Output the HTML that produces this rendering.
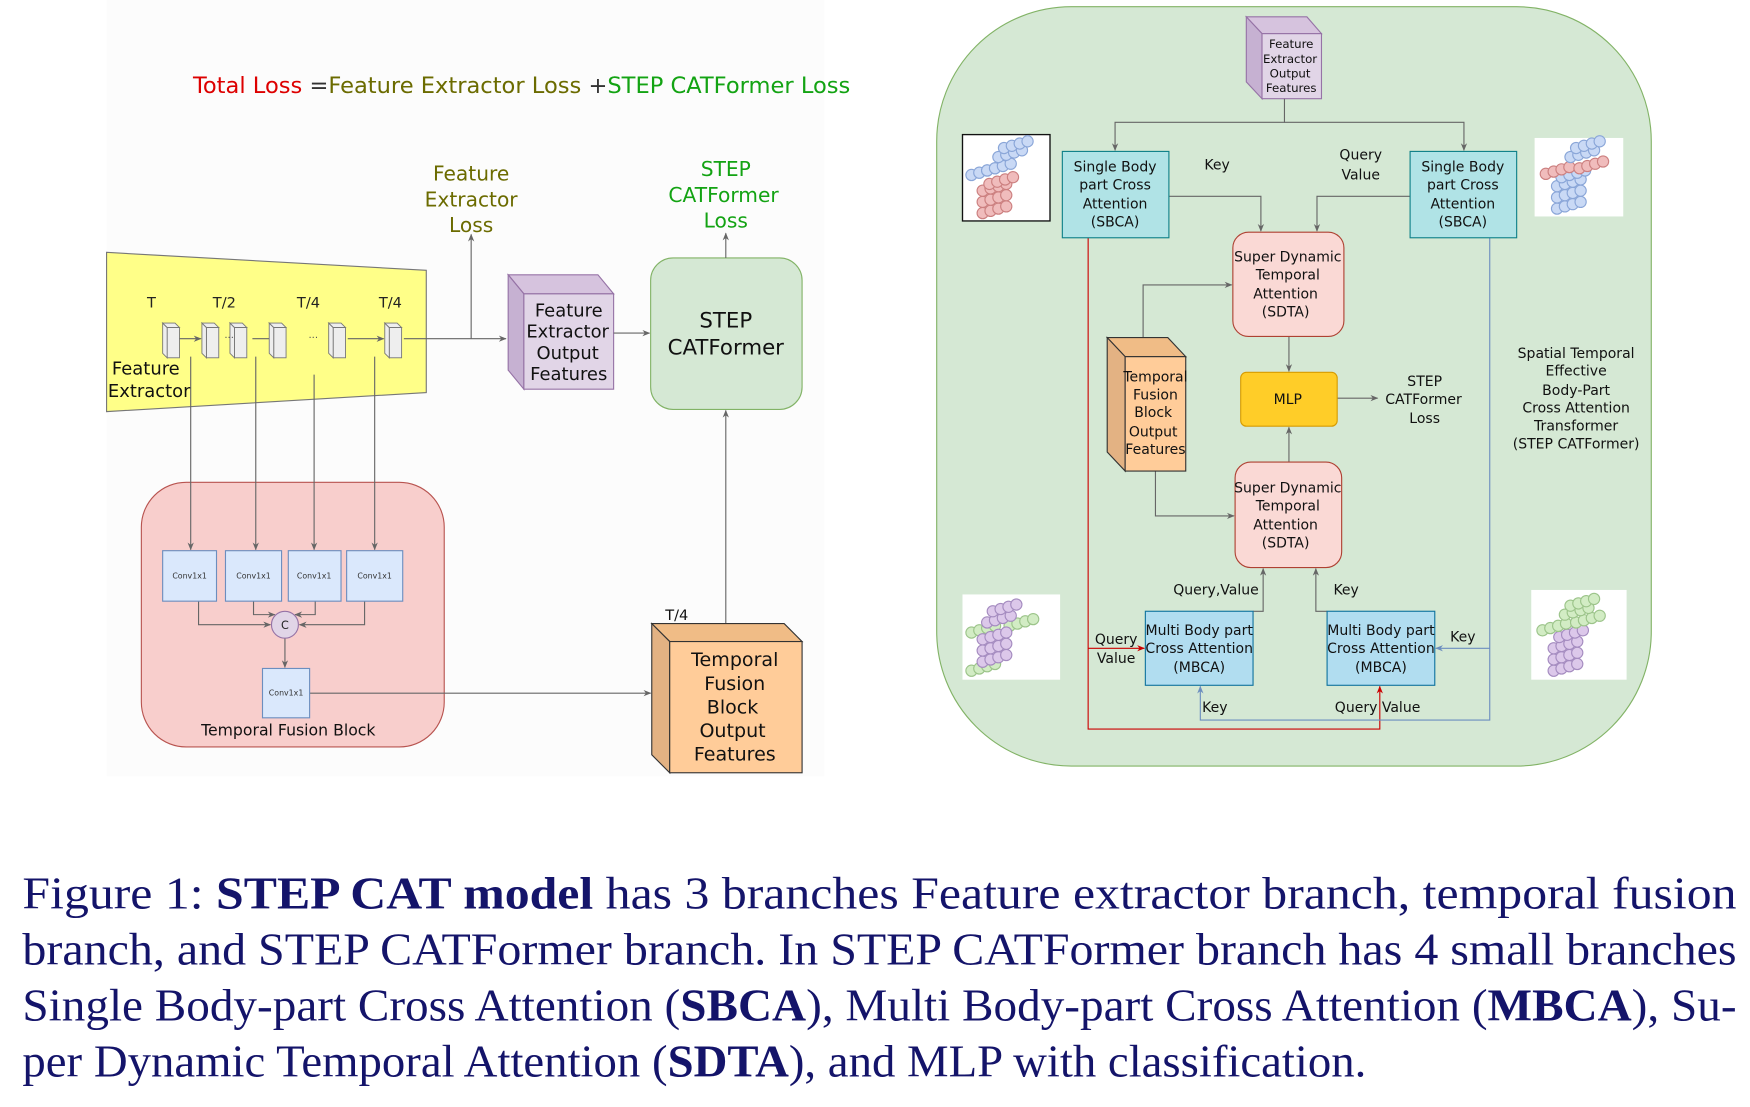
<!DOCTYPE html>
<html><head><meta charset="utf-8"><style>
html,body{margin:0;padding:0;background:#fff;}
svg{display:block;}
text{font-family:"DejaVu Sans","Liberation Sans",sans-serif;}
text.cap{font-family:"Liberation Serif",serif;}
</style></head><body>
<svg width="1750" height="1107" viewBox="0 0 1560 987" preserveAspectRatio="none" xmlns="http://www.w3.org/2000/svg">
<defs>
<marker id="a" viewBox="0 0 10 10" refX="9" refY="5" markerWidth="7" markerHeight="7" orient="auto-start-reverse"><path d="M0,1 L10,5 L0,9 L3,5 z" fill="#666"/></marker>
<marker id="ar" viewBox="0 0 10 10" refX="9" refY="5" markerWidth="7" markerHeight="7" orient="auto"><path d="M0,1 L10,5 L0,9 L3,5 z" fill="#c00"/></marker>
<marker id="ab" viewBox="0 0 10 10" refX="9" refY="5" markerWidth="7" markerHeight="7" orient="auto"><path d="M0,1 L10,5 L0,9 L3,5 z" fill="#6c8ebf"/></marker>
<g id="rb"><circle cx="0" cy="0" r="5" fill="#c9d9f5" stroke="#8aa6d8"/><circle cx="7" cy="-2" r="5" fill="#c9d9f5" stroke="#8aa6d8"/><circle cx="14" cy="-4" r="5" fill="#c9d9f5" stroke="#8aa6d8"/><circle cx="21" cy="-6" r="5" fill="#c9d9f5" stroke="#8aa6d8"/></g>
<g id="rr"><circle cx="0" cy="0" r="5" fill="#f0bcbc" stroke="#cc8080"/><circle cx="7" cy="-2" r="5" fill="#f0bcbc" stroke="#cc8080"/><circle cx="14" cy="-4" r="5" fill="#f0bcbc" stroke="#cc8080"/><circle cx="21" cy="-6" r="5" fill="#f0bcbc" stroke="#cc8080"/></g>
<g id="rp"><circle cx="0" cy="0" r="5" fill="#dcc8ea" stroke="#a58cc0"/><circle cx="7" cy="-2" r="5" fill="#dcc8ea" stroke="#a58cc0"/><circle cx="14" cy="-4" r="5" fill="#dcc8ea" stroke="#a58cc0"/><circle cx="21" cy="-6" r="5" fill="#dcc8ea" stroke="#a58cc0"/></g>
<g id="rg"><circle cx="0" cy="0" r="5" fill="#d2ecc4" stroke="#9cc48a"/><circle cx="7" cy="-2" r="5" fill="#d2ecc4" stroke="#9cc48a"/><circle cx="14" cy="-4" r="5" fill="#d2ecc4" stroke="#9cc48a"/><circle cx="21" cy="-6" r="5" fill="#d2ecc4" stroke="#9cc48a"/></g>
</defs>
<rect width="1560" height="987" fill="#fff"/>
<rect x="95" y="0" width="640" height="692" fill="#fcfcfc"/>

<text x="172" y="83" font-size="19.5" textLength="586" lengthAdjust="spacingAndGlyphs"><tspan fill="#dd0000">Total Loss</tspan><tspan fill="#333"> =</tspan><tspan fill="#6b6b00">Feature Extractor Loss </tspan><tspan fill="#333">+</tspan><tspan fill="#13a313">STEP CATFormer Loss</tspan></text>

<polygon points="95,225 380,241 380,350 95,367" fill="#ffff88" stroke="#777"/>
<g font-size="13" fill="#222" text-anchor="middle"><text x="135" y="274">T</text><text x="200" y="274">T/2</text><text x="275" y="274">T/4</text><text x="348" y="274">T/4</text></g>
<g fill="#eee" stroke="#777" stroke-width="0.8">
<g transform="translate(145,288)"><rect x="4" y="4" width="11" height="27"/><polygon points="0,0 4,4 4,31 0,27"/><polygon points="0,0 11,0 15,4 4,4"/></g>
<g transform="translate(180,288)"><rect x="4" y="4" width="11" height="27"/><polygon points="0,0 4,4 4,31 0,27"/><polygon points="0,0 11,0 15,4 4,4"/></g>
<g transform="translate(205,288)"><rect x="4" y="4" width="11" height="27"/><polygon points="0,0 4,4 4,31 0,27"/><polygon points="0,0 11,0 15,4 4,4"/></g>
<g transform="translate(240,288)"><rect x="4" y="4" width="11" height="27"/><polygon points="0,0 4,4 4,31 0,27"/><polygon points="0,0 11,0 15,4 4,4"/></g>
<g transform="translate(293,288)"><rect x="4" y="4" width="11" height="27"/><polygon points="0,0 4,4 4,31 0,27"/><polygon points="0,0 11,0 15,4 4,4"/></g>
<g transform="translate(343,288)"><rect x="4" y="4" width="11" height="27"/><polygon points="0,0 4,4 4,31 0,27"/><polygon points="0,0 11,0 15,4 4,4"/></g>
</g>
<g stroke="#666" fill="none" stroke-width="1">
<line x1="160" y1="302" x2="179" y2="302" marker-end="url(#a)"/>
<line x1="240" y1="302" x2="225" y2="302"/>
<line x1="310" y1="302" x2="342" y2="302" marker-end="url(#a)"/>
<line x1="360" y1="302" x2="451" y2="302" marker-end="url(#a)"/>
<line x1="420" y1="302" x2="420" y2="209" marker-end="url(#a)"/>
</g>
<text x="200" y="304" font-size="9" fill="#555">···</text><text x="275" y="304" font-size="9" fill="#555">···</text>
<text x="130" y="334" font-size="16" fill="#111" text-anchor="middle">Feature</text>
<text x="133" y="354" font-size="16" fill="#111" text-anchor="middle">Extractor</text>
<g font-size="18" fill="#6b6b00" text-anchor="middle"><text x="420" y="161">Feature</text><text x="420" y="184">Extractor</text><text x="420" y="207">Loss</text></g>

<polygon points="453,245 533,245 547,262 467,262" fill="#d6c3de" stroke="#9673a6"/>
<polygon points="453,245 467,262 467,347 453,330" fill="#c6b1d2" stroke="#9673a6"/>
<rect x="467" y="262" width="80" height="85" fill="#e1d5e7" stroke="#9673a6"/>
<g font-size="16" fill="#111" text-anchor="middle"><text x="507" y="282">Feature</text><text x="506" y="301">Extractor</text><text x="506" y="320">Output</text><text x="507" y="339">Features</text></g>
<line x1="547" y1="297" x2="579" y2="297" stroke="#666" marker-end="url(#a)"/>

<rect x="580" y="230" width="135" height="135" rx="20" fill="#d5e8d4" stroke="#82b366"/>
<text x="647" y="292" font-size="19" fill="#111" text-anchor="middle">STEP</text>
<text x="647" y="316" font-size="19" fill="#111" text-anchor="middle">CATFormer</text>
<line x1="647" y1="230" x2="647" y2="208" stroke="#666" marker-end="url(#a)"/>
<g font-size="18" fill="#13a313" text-anchor="middle"><text x="647" y="157">STEP</text><text x="645" y="180">CATFormer</text><text x="647" y="203">Loss</text></g>

<rect x="126" y="430" width="270" height="236" rx="40" fill="#f8cecc" stroke="#b85450"/>
<g stroke="#666" fill="none">
<line x1="170" y1="318" x2="170" y2="490" marker-end="url(#a)"/>
<line x1="228" y1="318" x2="228" y2="490" marker-end="url(#a)"/>
<line x1="280" y1="334" x2="280" y2="490" marker-end="url(#a)"/>
<line x1="334" y1="318" x2="334" y2="490" marker-end="url(#a)"/>
<polyline points="177,536 177,557 241,557" marker-end="url(#a)"/>
<polyline points="226,536 226,548 245,548" marker-end="url(#a)"/>
<polyline points="281,536 281,548 263,548" marker-end="url(#a)"/>
<polyline points="325,536 325,557 267,557" marker-end="url(#a)"/>
<line x1="254" y1="569" x2="254" y2="595" marker-end="url(#a)"/>
<line x1="276" y1="618" x2="580" y2="618" marker-end="url(#a)"/>
<line x1="647" y1="556" x2="647" y2="366" marker-end="url(#a)"/>
</g>
<g fill="#dae8fc" stroke="#6c8ebf"><rect x="145" y="491" width="48" height="45"/><rect x="201" y="491" width="50" height="45"/><rect x="257" y="491" width="47" height="45"/><rect x="309" y="491" width="50" height="45"/><rect x="234" y="596" width="42" height="44"/></g>
<g font-size="7" fill="#333" text-anchor="middle"><text x="169" y="516">Conv1x1</text><text x="226" y="516">Conv1x1</text><text x="280" y="516">Conv1x1</text><text x="334" y="516">Conv1x1</text><text x="255" y="620">Conv1x1</text></g>
<circle cx="254" cy="557" r="12" fill="#e1d5e7" stroke="#9673a6"/>
<text x="254" y="561" font-size="10" text-anchor="middle" fill="#222">C</text>
<text x="257" y="656" font-size="14" fill="#111" text-anchor="middle">Temporal Fusion Block</text>

<text x="593" y="553" font-size="13" fill="#111">T/4</text>
<polygon points="581,556 699,556 715,572 597,572" fill="#f0bc86" stroke="#333"/>
<polygon points="581,556 597,572 597,689 581,673" fill="#e3b283" stroke="#333"/>
<rect x="597" y="572" width="118" height="117" fill="#ffcc99" stroke="#333"/>
<g font-size="17" fill="#111" text-anchor="middle"><text x="655" y="594">Temporal</text><text x="655" y="615">Fusion</text><text x="653" y="636">Block</text><text x="653" y="657">Output</text><text x="655" y="678">Features</text></g>

<rect x="835" y="6" width="637" height="677" rx="120" fill="#d5e8d4" stroke="#82b366"/>
<polygon points="1111,15 1165,15 1178,30 1125,30" fill="#d6c3de" stroke="#9673a6"/>
<polygon points="1111,15 1125,30 1125,88 1111,73" fill="#c6b1d2" stroke="#9673a6"/>
<rect x="1125" y="30" width="53" height="58" fill="#e1d5e7" stroke="#9673a6"/>
<g font-size="10.5" fill="#111" text-anchor="middle"><text x="1151" y="43">Feature</text><text x="1150" y="56">Extractor</text><text x="1150" y="69">Output</text><text x="1151" y="82">Features</text></g>

<g stroke="#666" fill="none">
<polyline points="1145,88 1145,109 994,109 994,134" marker-end="url(#a)"/>
<polyline points="1145,109 1305,109 1305,134" marker-end="url(#a)"/>
<polyline points="1042,175 1124,175 1124,206" marker-end="url(#a)"/>
<polyline points="1257,175 1174,175 1174,206" marker-end="url(#a)"/>
<polyline points="1019,301 1019,254 1098,254" marker-end="url(#a)"/>
<polyline points="1030,420 1030,460 1100,460" marker-end="url(#a)"/>
<line x1="1149" y1="300" x2="1149" y2="331" marker-end="url(#a)"/>
<line x1="1149" y1="412" x2="1149" y2="381" marker-end="url(#a)"/>
<line x1="1192" y1="355" x2="1228" y2="355" marker-end="url(#a)"/>
<polyline points="1117,545 1126,545 1126,507" marker-end="url(#a)"/>
<polyline points="1183,545 1173,545 1173,507" marker-end="url(#a)"/>
</g>
<polyline points="970,212 970,650 1230,650 1230,612" fill="none" stroke="#c00" marker-end="url(#ar)"/>
<line x1="970" y1="578" x2="1020" y2="578" stroke="#c00" marker-end="url(#ar)"/>
<polyline points="1328,212 1328,642 1070,642 1070,612" fill="none" stroke="#6c8ebf" marker-end="url(#ab)"/>
<line x1="1328" y1="578" x2="1280" y2="578" stroke="#6c8ebf" marker-end="url(#ab)"/>

<rect x="947" y="135" width="95" height="77" fill="#b0e3e6" stroke="#0e8088"/>
<rect x="1257" y="135" width="95" height="77" fill="#b0e3e6" stroke="#0e8088"/>
<g font-size="12.5" fill="#111" text-anchor="middle">
<text x="994" y="153">Single Body</text><text x="994" y="169">part Cross</text><text x="994" y="186">Attention</text><text x="994" y="202">(SBCA)</text>
<text x="1304" y="153">Single Body</text><text x="1304" y="169">part Cross</text><text x="1304" y="186">Attention</text><text x="1304" y="202">(SBCA)</text>
<text x="1085" y="151">Key</text><text x="1213" y="142">Query</text><text x="1213" y="160">Value</text>
</g>

<rect x="1099" y="207" width="99" height="93" rx="14" fill="#fad9d5" stroke="#ae4132"/>
<rect x="1101" y="412" width="95" height="94" rx="14" fill="#fad9d5" stroke="#ae4132"/>
<rect x="1106" y="332" width="86" height="48" rx="5" fill="#ffcd28" stroke="#d79b00"/>
<g font-size="12.5" fill="#111" text-anchor="middle">
<text x="1148" y="233">Super Dynamic</text><text x="1148" y="249">Temporal</text><text x="1146" y="266">Attention</text><text x="1146" y="282">(SDTA)</text>
<text x="1148" y="439">Super Dynamic</text><text x="1148" y="455">Temporal</text><text x="1146" y="472">Attention</text><text x="1146" y="488">(SDTA)</text>
<text x="1148" y="360">MLP</text>
<text x="1270" y="344">STEP</text><text x="1269" y="360">CATFormer</text><text x="1270" y="377">Loss</text>
</g>

<polygon points="987,301 1041,301 1057,318 1003,318" fill="#f0bc86" stroke="#333"/>
<polygon points="987,301 1003,318 1003,420 987,403" fill="#e3b283" stroke="#333"/>
<rect x="1003" y="318" width="54" height="102" fill="#ffcc99" stroke="#333"/>
<g font-size="12.5" fill="#111" text-anchor="middle"><text x="1030" y="340">Temporal</text><text x="1030" y="356">Fusion</text><text x="1028" y="372">Block</text><text x="1028" y="389">Output</text><text x="1030" y="405">Features</text></g>

<rect x="1021" y="545" width="96" height="66" fill="#b1ddf0" stroke="#10739e"/>
<rect x="1183" y="545" width="96" height="66" fill="#b1ddf0" stroke="#10739e"/>
<g font-size="12.5" fill="#111" text-anchor="middle">
<text x="1069" y="566">Multi Body part</text><text x="1069" y="582">Cross Attention</text><text x="1069" y="599">(MBCA)</text>
<text x="1231" y="566">Multi Body part</text><text x="1231" y="582">Cross Attention</text><text x="1231" y="599">(MBCA)</text>
<text x="1084" y="530">Query,Value</text><text x="1200" y="530">Key</text>
<text x="995" y="574">Query</text><text x="995" y="591">Value</text>
<text x="1304" y="572">Key</text>
<text x="1083" y="635">Key</text><text x="1228" y="635">Query Value</text>
<text x="1405" y="319">Spatial Temporal</text><text x="1405" y="335">Effective</text><text x="1405" y="352">Body-Part</text><text x="1405" y="368">Cross Attention</text><text x="1405" y="384">Transformer</text><text x="1405" y="400">(STEP CATFormer)</text>
</g>

<rect x="858" y="120" width="78" height="77" fill="#fff" stroke="#111" stroke-width="1.2"/>
<use href="#rr" x="876" y="190"/><use href="#rr" x="876" y="180"/><use href="#rr" x="876" y="170"/><use href="#rr" x="882" y="164"/>
<use href="#rb" x="866" y="156"/><use href="#rb" x="880" y="152"/><use href="#rb" x="890" y="140"/><use href="#rb" x="895" y="132"/>
<rect x="1368" y="123" width="79" height="70" fill="#fff"/>
<use href="#rb" x="1388" y="186"/><use href="#rb" x="1388" y="176"/><use href="#rb" x="1388" y="166"/><use href="#rb" x="1392" y="158"/>
<use href="#rr" x="1378" y="155"/><use href="#rr" x="1408" y="150"/><use href="#rb" x="1400" y="140"/><use href="#rb" x="1405" y="132"/>
<rect x="858" y="530" width="87" height="76" fill="#fff"/>
<use href="#rg" x="866" y="598"/><use href="#rp" x="876" y="590"/><use href="#rp" x="876" y="580"/><use href="#rg" x="866" y="564"/><use href="#rg" x="900" y="558"/><use href="#rp" x="876" y="570"/><use href="#rp" x="880" y="555"/><use href="#rp" x="885" y="545"/>
<rect x="1365" y="526" width="85" height="80" fill="#fff"/>
<use href="#rp" x="1385" y="598"/><use href="#rp" x="1385" y="588"/><use href="#rp" x="1385" y="578"/><use href="#rp" x="1390" y="568"/>
<use href="#rg" x="1375" y="562"/><use href="#rg" x="1405" y="555"/><use href="#rg" x="1395" y="548"/><use href="#rg" x="1400" y="540"/>

<g font-size="41" fill="#14146a">
<text class="cap" x="20" y="810" textLength="1528" lengthAdjust="spacingAndGlyphs">Figure 1: <tspan font-weight="bold">STEP CAT model</tspan>  has 3 branches Feature extractor branch, temporal fusion</text>
<text class="cap" x="20" y="860" textLength="1528" lengthAdjust="spacingAndGlyphs">branch, and STEP CATFormer branch. In STEP CATFormer branch has 4 small branches</text>
<text class="cap" x="20" y="910" textLength="1528" lengthAdjust="spacingAndGlyphs">Single Body-part Cross Attention (<tspan font-weight="bold">SBCA</tspan>), Multi Body-part Cross Attention (<tspan font-weight="bold">MBCA</tspan>), Su-</text>
<text class="cap" x="20" y="960" textLength="1198" lengthAdjust="spacingAndGlyphs">per Dynamic Temporal Attention (<tspan font-weight="bold">SDTA</tspan>), and MLP with classification.</text>
</g>
</svg>
</body></html>
